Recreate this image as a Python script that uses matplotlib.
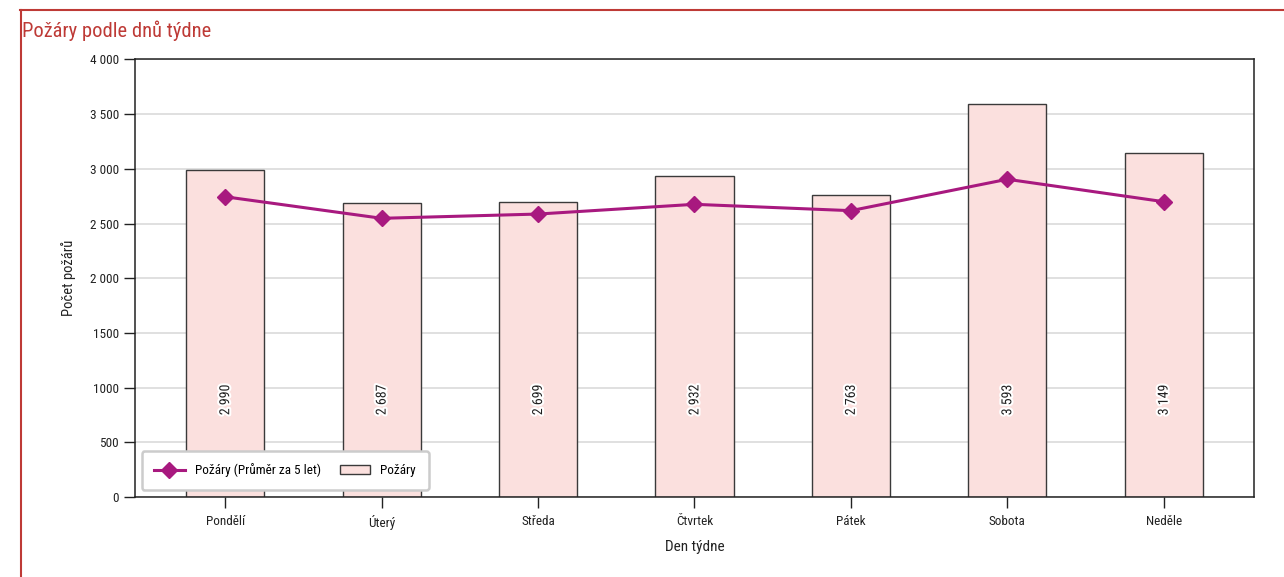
import numpy as np
import matplotlib
matplotlib.use("Agg")
import matplotlib.pyplot as plt
from matplotlib import font_manager
from matplotlib.lines import Line2D
import matplotlib.patheffects as pe

# data
days = ["Pondělí", "Úterý", "Středa", "Čtvrtek", "Pátek", "Sobota", "Neděle"]
fires = [2990, 2687, 2699, 2932, 2763, 3593, 3149]
fires_avg5 = [2745, 2548, 2587, 2676, 2618, 2905, 2700]
ytick_vals = [0, 500, 1000, 1500, 2000, 2500, 3000, 3500, 4000]
ytick_text = ["0", "500", "1000", "1500", "2 000", "2 500", "3 000", "3 500", "4 000"]

BAR_FILL = "#FBE0DE"
BAR_EDGE = "#3a3a3a"
LINE_COL = "#A8197F"
RED = "#BE3A36"
INK = "#222222"


def pick_font():
    names = {f.name for f in font_manager.fontManager.ttflist}
    for cand in ("Liberation Sans Narrow", "Roboto Condensed",
                 "DejaVu Sans Condensed", "Roboto"):
        if cand in names:
            return cand
    return "DejaVu Sans"


plt.rcParams["font.family"] = [pick_font(), "DejaVu Sans"]

fig = plt.figure(figsize=(12.84, 5.77), dpi=100)
ax = fig.add_axes([0.1051, 0.1386, 0.8715, 0.7583])

x = np.arange(len(days))
ax.bar(x, fires, width=0.5, color=BAR_FILL, edgecolor=BAR_EDGE, linewidth=1,
       label="Požáry", zorder=2)
ax.plot(x, fires_avg5, color=LINE_COL, lw=2.2, marker="D", ms=8,
        label="Požáry (Průměr za 5 let)", zorder=3)

for xi, v in zip(x, fires):
    s = f"{v:,}".replace(",", " ")
    ax.text(xi, 887, s, rotation=90, ha="center", va="center", fontsize=10,
            color=INK, zorder=4,
            path_effects=[pe.withStroke(linewidth=3, foreground="white")])

ax.set_xlim(-0.577, len(days) - 1 + 0.577)
ax.set_ylim(0, 4000)
ax.set_yticks(ytick_vals)
ax.set_yticklabels(ytick_text)
ax.set_xticks(x)
ax.set_xticklabels(days)
ax.tick_params(axis="both", labelsize=9.5, colors=INK, length=8, width=1,
               direction="out")
ax.tick_params(axis="x", pad=5)
ax.grid(axis="y", color="#dddddd", lw=1.3, zorder=0)
ax.set_axisbelow(True)
for sp in ax.spines.values():
    sp.set_color(INK)
    sp.set_linewidth(1.1)

ax.set_ylabel("Počet požárů", fontsize=10.5, color=INK, labelpad=10)
ax.set_xlabel("Den týdne", fontsize=11, color=INK, labelpad=7)

leg = ax.legend(loc="lower left", bbox_to_anchor=(0.006, 0.016),
                borderaxespad=0, ncol=2, fontsize=9.5, handlelength=2.3,
                columnspacing=1.4, borderpad=0.95, frameon=True, fancybox=True)
leg.get_frame().set_edgecolor("#cccccc")
leg.get_frame().set_linewidth(1.8)
leg.get_frame().set_alpha(1)
leg.set_zorder(5)

# red frame + title
fig.add_artist(Line2D([0.0156, 1.0], [0.9827, 0.9827], color=RED, lw=1.5,
                      transform=fig.transFigure))
fig.add_artist(Line2D([0.0164, 0.0164], [0.0, 0.9827], color=RED, lw=1.5,
                      transform=fig.transFigure))
fig.text(0.0171, 0.946, "Požáry podle dnů týdne", fontsize=14.8, color=RED,
         ha="left", va="center")

fig.savefig("out.png", dpi=100)
